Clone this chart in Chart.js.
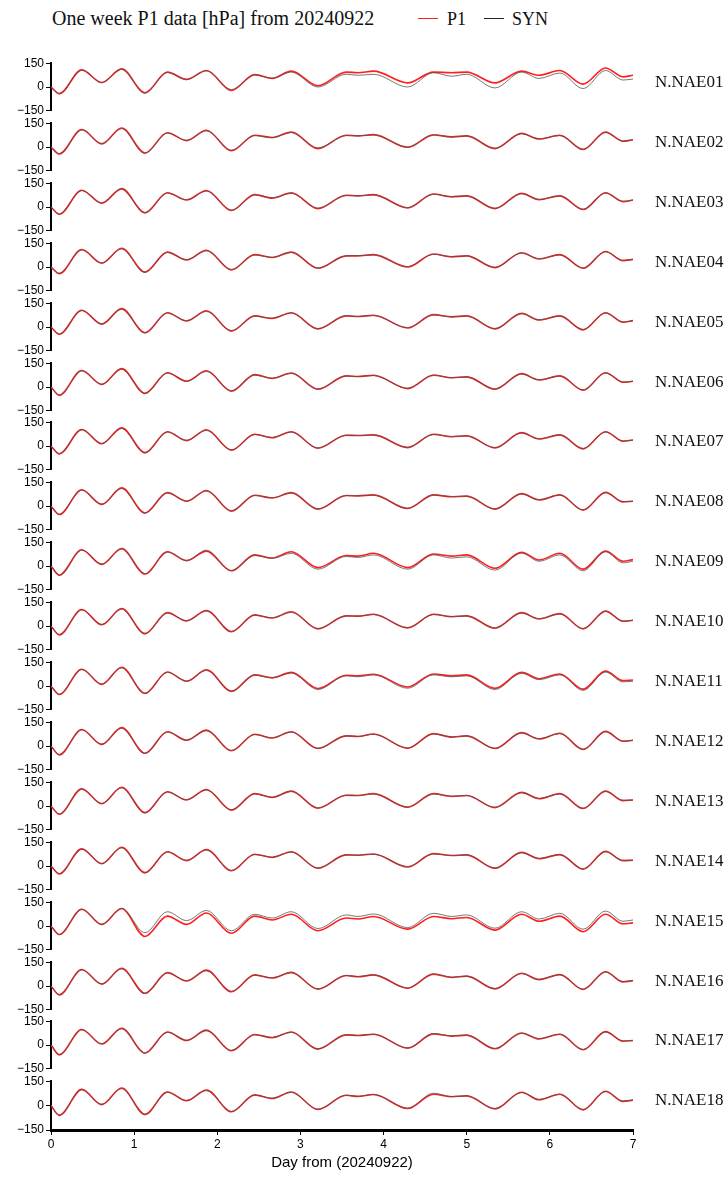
<!DOCTYPE html>
<html>
<head>
<meta charset="utf-8">
<title>One week P1 data</title>
<script src="https://cdn.jsdelivr.net/npm/chart.js@4.4.1/dist/chart.umd.min.js"></script>
<style>
  body { margin: 0; width: 728px; height: 1178px; background: #fff; position: relative; overflow: hidden; }
  .panel { position: absolute; left: 0; width: 728px; }
  .serif { font-family: 'Liberation Serif', 'Times New Roman', serif; color: #111; position: absolute; line-height: 1; white-space: nowrap; }
  .station { left: 655px; font-size: 17px; transform: translateY(-50%); }
  .key { position: absolute; width: 20px; height: 1.2px; }
</style>
</head>
<body>
<div class="serif" style="left:52px; top:8px; font-size:20px;">One week P1 data [hPa] from 20240922</div>
<div class="key" style="left:418px; top:18px; background:#ff2020;"></div>
<div class="serif" style="left:447px; top:10px; font-size:18px;">P1</div>
<div class="key" style="left:484px; top:18px; background:#222;"></div>
<div class="serif" style="left:512px; top:10px; font-size:18px;">SYN</div>

<script>
// sample times (day from 20240922), read at the turning points of the curves
const days = [0, 0.10, 0.37, 0.61, 0.85, 1.13, 1.40, 1.63, 1.87, 2.17, 2.45, 2.66, 2.89, 3.21, 3.55,
              3.69, 3.88, 4.29, 4.60, 4.82, 5.00, 5.34, 5.66, 5.87, 6.12, 6.40, 6.67, 6.88, 7.00];

const stations = ['N.NAE01', 'N.NAE02', 'N.NAE03', 'N.NAE04', 'N.NAE05', 'N.NAE06', 'N.NAE07', 'N.NAE08', 'N.NAE09',
                  'N.NAE10', 'N.NAE11', 'N.NAE12', 'N.NAE13', 'N.NAE14', 'N.NAE15', 'N.NAE16', 'N.NAE17', 'N.NAE18'];

const yTicks = [-150, 0, 150];
const xTicks = [0, 1, 2, 3, 4, 5, 6, 7];

// P1 (observed) and SYN (synthetic) in hPa
const p1NAE01  = [0,-42,108,28,114,-36,94,48,104,-22,78,54,100,8,94,90,100,26,94,90,94,26,100,74,104,18,120,64,74];
const synNAE01 = [0,-42,108,28,112,-40,92,46,102,-16,76,56,94,0,80,74,80,0,90,68,80,-6,94,54,88,-10,104,44,50];
const p1NAE02  = [0,-44,110,20,120,-38,90,40,106,-24,74,60,94,-10,74,70,78,-2,76,64,70,-10,86,50,74,-16,94,36,46];
const synNAE02 = [0,-42,108,22,116,-40,88,42,102,-20,72,58,92,-6,72,70,76,0,78,62,70,-8,84,52,72,-14,92,38,46];
const p1NAE03  = [0,-46,106,24,116,-36,90,44,104,-22,78,56,90,-10,74,70,78,-6,82,64,70,-10,86,46,70,-16,90,34,44];
const synNAE03 = [0,-44,104,26,112,-38,88,46,100,-20,76,58,86,-8,72,70,76,-4,80,66,70,-8,84,48,70,-14,88,36,44];
const p1NAE04  = [0,-42,110,24,118,-32,94,44,106,-18,78,60,94,-8,70,70,78,0,82,64,70,-4,90,50,78,-8,98,40,48];
const synNAE04 = [0,-40,108,26,114,-34,92,46,102,-16,76,60,92,-6,70,72,76,2,80,66,70,-2,88,52,76,-6,96,42,48];
const p1NAE05  = [0,-46,106,18,116,-36,90,38,102,-26,70,54,90,-12,70,66,74,-6,78,64,70,-12,86,44,70,-18,90,30,40];
const synNAE05 = [0,-44,104,20,112,-38,88,40,98,-22,68,56,88,-10,72,66,72,-4,76,64,70,-10,84,46,70,-16,88,32,40];
const p1NAE06  = [0,-52,104,16,116,-40,90,36,102,-26,78,54,88,-14,70,66,74,-10,74,58,64,-14,84,44,70,-20,90,30,36];
const synNAE06 = [0,-50,102,18,112,-42,88,38,98,-24,74,56,86,-12,70,66,72,-8,76,58,64,-12,82,46,70,-18,88,32,36];
const p1NAE07  = [0,-50,104,14,114,-42,90,34,102,-26,74,52,90,-14,68,66,70,-10,74,58,64,-12,84,44,70,-18,90,30,38];
const synNAE07 = [0,-48,102,16,110,-44,88,36,98,-24,72,54,88,-12,68,66,70,-8,72,60,64,-10,82,46,70,-16,88,32,38];
const p1NAE08  = [0,-54,102,10,114,-44,84,30,98,-32,68,50,84,-20,66,64,70,-16,70,58,62,-20,78,38,70,-26,86,26,30];
const synNAE08 = [0,-52,100,12,110,-46,82,32,94,-30,66,52,82,-18,66,64,68,-14,70,60,62,-18,76,40,70,-24,84,28,30];
const p1NAE09  = [0,-58,102,10,110,-50,90,34,94,-30,70,50,90,-10,66,62,80,-10,76,62,70,-14,86,38,80,-20,94,30,40];
const synNAE09 = [0,-56,100,12,106,-50,88,34,100,-30,66,48,80,-20,60,54,70,-20,70,50,58,-26,82,30,70,-30,90,20,30];
const p1NAE10  = [0,-56,104,8,110,-48,84,32,98,-36,70,50,90,-18,64,62,74,-12,74,58,64,-14,84,44,78,-18,94,30,36];
const synNAE10 = [0,-54,102,10,106,-50,82,34,94,-34,68,52,86,-16,64,62,72,-10,72,60,64,-12,82,46,76,-16,92,32,36];
const p1NAE11  = [0,-54,106,10,118,-46,88,30,102,-34,70,52,86,-16,68,64,74,-6,76,64,70,-14,86,46,76,-20,94,34,38];
const synNAE11 = [0,-52,104,12,114,-48,86,32,98,-32,68,50,82,-22,64,58,70,-14,70,58,64,-22,80,40,70,-28,88,26,30];
const p1NAE12  = [0,-56,104,10,116,-46,90,36,100,-30,74,50,90,-16,64,60,76,-14,78,56,64,-16,84,44,80,-22,92,30,36];
const synNAE12 = [0,-54,102,12,112,-48,88,38,96,-28,72,52,88,-14,64,60,74,-12,76,58,64,-14,82,46,78,-20,90,32,36];
const p1NAE13  = [0,-52,108,14,118,-42,90,38,104,-26,78,54,94,-14,68,66,78,-8,78,60,66,-10,86,46,78,-16,94,34,38];
const synNAE13 = [0,-50,106,16,114,-44,88,40,100,-24,76,56,92,-12,68,66,76,-6,76,62,66,-8,84,48,76,-14,92,36,38];
const p1NAE14  = [0,-50,108,14,118,-42,90,34,104,-30,74,54,90,-14,70,68,76,-6,78,66,70,-14,86,46,72,-20,92,34,36];
const synNAE14 = [0,-48,106,16,114,-44,88,36,100,-28,72,56,88,-12,70,68,74,-4,76,66,70,-12,84,48,72,-18,90,36,36];
const p1NAE15  = [0,-54,106,10,110,-66,62,10,82,-46,62,38,74,-30,50,44,60,-20,60,46,54,-26,74,30,62,-36,74,14,20];
const synNAE15 = [0,-54,106,10,110,-42,90,34,98,-30,74,50,90,-16,70,60,76,-10,80,60,70,-14,90,44,80,-20,94,30,38];
const p1NAE16  = [0,-56,104,12,112,-46,84,32,100,-36,70,50,86,-20,66,58,70,-14,74,54,62,-18,80,40,72,-22,90,26,34];
const synNAE16 = [0,-54,102,14,108,-48,82,34,96,-34,68,52,84,-18,66,60,70,-12,78,56,62,-16,78,42,72,-20,88,28,34];
const p1NAE17  = [0,-62,98,6,106,-50,82,28,94,-36,66,46,82,-26,64,60,68,-20,70,56,62,-24,76,38,68,-30,84,24,28];
const synNAE17 = [0,-60,96,8,102,-52,80,30,90,-34,64,48,80,-24,64,60,68,-18,72,58,62,-22,74,40,68,-28,82,26,28];
const p1NAE18  = [0,-60,100,6,108,-54,84,30,96,-38,66,44,84,-24,64,56,68,-18,70,54,60,-20,82,36,70,-26,88,26,34];
const synNAE18 = [0,-58,98,8,104,-56,82,32,92,-36,64,46,82,-22,64,58,68,-16,76,56,60,-18,80,38,70,-24,86,28,34];

const p1Series = [p1NAE01, p1NAE02, p1NAE03, p1NAE04, p1NAE05, p1NAE06, p1NAE07, p1NAE08, p1NAE09,
                  p1NAE10, p1NAE11, p1NAE12, p1NAE13, p1NAE14, p1NAE15, p1NAE16, p1NAE17, p1NAE18];
const synSeries = [synNAE01, synNAE02, synNAE03, synNAE04, synNAE05, synNAE06, synNAE07, synNAE08, synNAE09,
                   synNAE10, synNAE11, synNAE12, synNAE13, synNAE14, synNAE15, synNAE16, synNAE17, synNAE18];

// layout of the stacked panels
const PANEL_TOP = 62;     // pixel of +150 in the first panel
const PANEL_STEP = 59.9;  // distance between panels
const PANEL_H = 50;       // +150 .. -150
const PAD = 8;
const X_AXIS_H = 46;
const AXIS_LEFT = 51;
const AXIS_RIGHT = 633;

const tickFont = { family: "'Liberation Sans', Arial, sans-serif", size: 12 };

function points(vals) {
    return vals.map((v, i) => ({ x: days[i], y: v }));
}

stations.forEach((name, k) => {
    const last = k === stations.length - 1;
    const top = Math.round(PANEL_TOP + PANEL_STEP * k);

    const box = document.createElement('div');
    box.className = 'panel';
    box.style.top = (top - PAD) + 'px';
    box.style.height = (PAD + PANEL_H + (last ? X_AXIS_H : PAD)) + 'px';
    const canvas = document.createElement('canvas');
    box.appendChild(canvas);
    document.body.appendChild(box);

    const label = document.createElement('div');
    label.className = 'serif station';
    label.style.top = (top + PANEL_H / 2 - 6) + 'px';
    label.textContent = name;
    document.body.appendChild(label);

    new Chart(canvas, {
        type: 'line',
        data: {
            datasets: [{
                label: 'SYN',
                data: points(synSeries[k]),
                borderColor: '#555',
                borderWidth: 0.8,
                pointRadius: 0,
                cubicInterpolationMode: 'monotone'
            }, {
                label: 'P1',
                data: points(p1Series[k]),
                borderColor: '#ff1f1f',
                borderWidth: 1.6,
                pointRadius: 0,
                cubicInterpolationMode: 'monotone'
            }]
        },
        options: {
            responsive: true,
            maintainAspectRatio: false,
            animation: false,
            events: [],
            layout: { padding: { left: 0, right: 728 - AXIS_RIGHT, top: PAD, bottom: last ? 0 : PAD } },
            plugins: { legend: { display: false }, tooltip: { enabled: false } },
            scales: {
                x: {
                    type: 'linear',
                    min: 0,
                    max: 7,
                    display: last,
                    afterBuildTicks: s => { s.ticks = xTicks.map(v => ({ value: v })); },
                    ticks: { font: tickFont, color: '#000', padding: 2, maxRotation: 0 },
                    grid: { drawOnChartArea: false, tickLength: 5, color: '#000', lineWidth: 1 },
                    border: { color: '#000', width: 3 },
                    title: {
                        display: true,
                        text: 'Day from (20240922)',
                        color: '#000',
                        font: { family: "'Liberation Sans', Arial, sans-serif", size: 15 },
                        padding: { top: 4, bottom: 4 }
                    },
                    afterFit: s => { if (last) s.height = X_AXIS_H; }
                },
                y: {
                    min: -150,
                    max: 150,
                    afterBuildTicks: s => { s.ticks = yTicks.map(v => ({ value: v })); },
                    ticks: {
                        font: tickFont,
                        color: '#000',
                        padding: 2,
                        callback: v => v < 0 ? '\u2212' + Math.abs(v) : String(v)
                    },
                    grid: { drawOnChartArea: false, tickLength: 5, color: '#000', lineWidth: 1 },
                    border: { color: '#000', width: 2 },
                    afterFit: s => { s.width = AXIS_LEFT; }
                }
            }
        }
    });
});
</script>
</body>
</html>
